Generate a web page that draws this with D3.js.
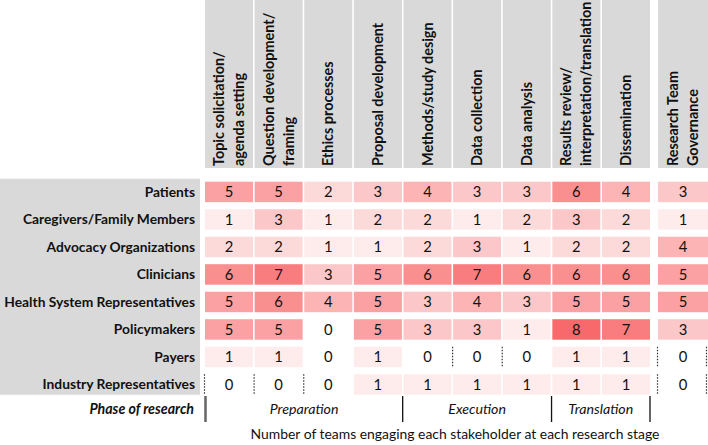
<!DOCTYPE html>
<html>
<head>
<meta charset="utf-8">
<script src="https://cdn.jsdelivr.net/npm/d3@7"></script>
<style>
  body { margin: 0; background: #fff; }
  svg { display: block; font-family: Lato, "Open Sans", sans-serif; }
</style>
</head>
<body>
<svg id="chart" width="708" height="445"></svg>
<script>
// -----------
// DATOS
// -----------
const stageLabels = [
  ['Topic solicitation/', 'agenda setting'],
  ['Question development/', 'framing'],
  ['Ethics processes'],
  ['Proposal development'],
  ['Methods/study design'],
  ['Data collection'],
  ['Data analysis'],
  ['Results review/', 'interpretation/translation'],
  ['Dissemination'],
  ['Research Team', 'Governance'],
];
const stakeholders = [
  'Patients',
  'Caregivers/Family Members',
  'Advocacy Organizations',
  'Clinicians',
  'Health System Representatives',
  'Policymakers',
  'Payers',
  'Industry Representatives',
];
const counts = [
  [5, 5, 2, 3, 4, 3, 3, 6, 4, 3],
  [1, 3, 1, 2, 2, 1, 2, 3, 2, 1],
  [2, 2, 1, 1, 2, 3, 1, 2, 2, 4],
  [6, 7, 3, 5, 6, 7, 6, 6, 6, 5],
  [5, 6, 4, 5, 3, 4, 3, 5, 5, 5],
  [5, 5, 0, 5, 3, 3, 1, 8, 7, 3],
  [1, 1, 0, 1, 0, 0, 0, 1, 1, 0],
  [0, 0, 0, 1, 1, 1, 1, 1, 1, 0],
];
const phaseNames = ['Preparation', 'Execution', 'Translation'];
const phaseFrom = [0, 4, 7];
const phaseTo = [3, 6, 8];
// bordes punteados de la tabla original: [fila, columna, lado]
const dottedEdges = [
  [6, 5, 'left'], [6, 6, 'left'], [6, 9, 'left'], [6, 9, 'right'],
  [7, 0, 'left'], [7, 1, 'left'], [7, 2, 'left'], [7, 9, 'left'], [7, 9, 'right'],
];

const svg = d3.select('#chart');
const gris = '#d9d9d9';
const texto = '#111';

// -----------
// ESCALAS
// -----------
const x = d3.scaleBand().domain(d3.range(9)).range([205, 650]).paddingInner(0.032);
const xg = d3.scaleBand().domain([9]).range([658, 708]);
const colX = (i) => (i < 9 ? x(i) : xg(i));
const colW = (i) => (i < 9 ? x.bandwidth() : xg.bandwidth());

const y = d3.scaleBand().domain(d3.range(stakeholders.length))
  .range([178.2, 398.2]).paddingInner(0.255).paddingOuter(0.1275);

const color = d3.scaleLinear().domain([0, 8]).range(['#ffffff', '#f8696b']);

// -----------
// ENCABEZADOS
// -----------
const head = svg.append('g');
stageLabels.forEach((lines, i) => {
  head.append('rect')
    .attr('x', colX(i)).attr('y', 0)
    .attr('width', colW(i)).attr('height', 168)
    .attr('fill', gris);
  const cx = colX(i) + colW(i) / 2;
  const t = head.append('text')
    .attr('transform', `translate(${cx},166) rotate(-90)`)
    .attr('font-size', 14.4)
    .attr('font-weight', 'bold')
    .attr('fill', texto);
  lines.forEach((l, k) => {
    const off = 5 + (k - (lines.length - 1) / 2) * 20;
    t.append('tspan').attr('x', 0).attr('y', off).text(l);
  });
});

// -----------
// FILAS
// -----------
svg.append('rect')
  .attr('x', 0).attr('y', y(0) - 3)
  .attr('width', 200)
  .attr('height', y(stakeholders.length - 1) + y.bandwidth() - y(0) + 3)
  .attr('fill', gris);

svg.append('g').selectAll('text')
  .data(stakeholders)
  .join('text')
  .attr('x', 195)
  .attr('y', (d, i) => y(i) + y.bandwidth() / 2)
  .attr('dy', '0.36em')
  .attr('text-anchor', 'end')
  .attr('font-size', 13.8)
  .attr('font-weight', 'bold')
  .attr('fill', texto)
  .text((d) => d);

const cells = [];
counts.forEach((row, r) => row.forEach((v, c) => cells.push({ r, c, v })));

const celda = svg.append('g').selectAll('g')
  .data(cells)
  .join('g');
celda.append('rect')
  .attr('x', (d) => colX(d.c))
  .attr('y', (d) => y(d.r))
  .attr('width', (d) => colW(d.c))
  .attr('height', y.bandwidth())
  .attr('fill', (d) => color(d.v));
celda.append('text')
  .attr('x', (d) => colX(d.c) + colW(d.c) / 2)
  .attr('y', (d) => y(d.r) + y.bandwidth() / 2)
  .attr('dy', '0.36em')
  .attr('text-anchor', 'middle')
  .attr('font-size', 14.8)
  .attr('fill', texto)
  .text((d) => d.v);

svg.append('g').selectAll('line')
  .data(dottedEdges)
  .join('line')
  .attr('x1', (d) => (d[2] === 'left' ? colX(d[1]) - 0.5 : colX(d[1]) + colW(d[1]) - 1.5))
  .attr('x2', (d) => (d[2] === 'left' ? colX(d[1]) - 0.5 : colX(d[1]) + colW(d[1]) - 1.5))
  .attr('y1', (d) => y(d[0]))
  .attr('y2', (d) => y(d[0]) + y.bandwidth())
  .attr('stroke', '#333')
  .attr('stroke-width', 1.2)
  .attr('stroke-dasharray', '1.5,1.5');

// -----------
// FASES
// -----------
const faseY = 396;
const faseH = 26;
svg.append('text')
  .attr('x', 194).attr('y', 414)
  .attr('text-anchor', 'end')
  .attr('font-size', 14.2)
  .attr('font-weight', 'bold')
  .attr('font-style', 'italic')
  .attr('fill', texto)
  .text('Phase of research');

const cortes = phaseFrom.map((f) => x(f) - (f === 0 ? -0.5 : 0.8));
cortes.push(x(phaseTo[phaseTo.length - 1]) + x.bandwidth());
svg.append('g').selectAll('line')
  .data(cortes)
  .join('line')
  .attr('x1', (d) => d).attr('x2', (d) => d)
  .attr('y1', faseY).attr('y2', faseY + faseH)
  .attr('stroke', (d, i) => (i === 0 ? '#666' : '#111'))
  .attr('stroke-width', (d, i) => (i === 0 ? 2.5 : 1.3));

svg.append('g').selectAll('text')
  .data(phaseNames)
  .join('text')
  .attr('x', (d, i) => (cortes[i] + cortes[i + 1]) / 2)
  .attr('y', 414)
  .attr('text-anchor', 'middle')
  .attr('font-size', 14.2)
  .attr('font-style', 'italic')
  .attr('fill', texto)
  .text((d) => d);

svg.append('text')
  .attr('x', 455).attr('y', 439)
  .attr('text-anchor', 'middle')
  .attr('font-size', 13.9)
  .attr('fill', texto)
  .text('Number of teams engaging each stakeholder at each research stage');
</script>
</body>
</html>
